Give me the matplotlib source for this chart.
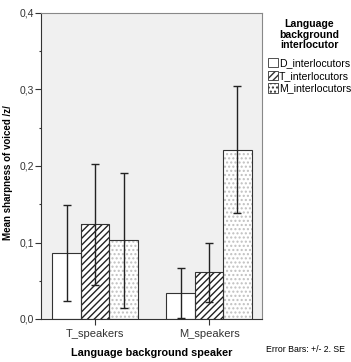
import numpy as np
import matplotlib
matplotlib.use('Agg')
import matplotlib.pyplot as plt
from matplotlib.ticker import MultipleLocator, FuncFormatter
from matplotlib.patches import Patch

plt.rcParams['font.family'] = ['Liberation Sans', 'DejaVu Sans']
plt.rcParams['hatch.linewidth'] = 1.0

# data
speakers = ['T_speakers', 'M_speakers']
interlocutors = ['D_interlocutors', 'T_interlocutors', 'M_interlocutors']
means = {'D_interlocutors': [0.086, 0.034],
         'T_interlocutors': [0.124, 0.061],
         'M_interlocutors': [0.103, 0.221]}
err2se = {'D_interlocutors': [0.063, 0.033],
          'T_interlocutors': [0.079, 0.039],
          'M_interlocutors': [0.088, 0.083]}

hatches = ['', '/////', '....']
hcols = ['black', '#222222', '#c0c0c0']

fig = plt.figure(figsize=(3.51, 3.62), dpi=100)
ax = fig.add_axes([41/351, 1-319/362, 221/351, 306/362])
ax.set_facecolor('#f0f0f0')

x = np.arange(len(speakers))
w = 0.25
for i, name in enumerate(interlocutors):
    pos = x + (i - 1) * w
    ax.bar(pos, means[name], w, color='white', edgecolor=hcols[i],
           hatch=hatches[i], lw=0, zorder=2)
    ax.bar(pos, means[name], w, color='none', edgecolor='#333333', lw=0.8, zorder=3)
    ax.errorbar(pos, means[name], yerr=err2se[name], fmt='none',
                ecolor='#222222', elinewidth=1, capsize=2.7, capthick=1, zorder=4)

ax.set_xlim(-0.474, 1.465)
ax.set_ylim(0, 0.4)
ax.yaxis.set_major_locator(MultipleLocator(0.1))
ax.yaxis.set_minor_locator(MultipleLocator(0.05))
ax.yaxis.set_major_formatter(FuncFormatter(lambda v, p: f'{v:.1f}'.replace('.', ',')))
ax.set_xticks(x)
ax.set_xticklabels(speakers)
ax.tick_params(axis='x', labelsize=8, colors='#333333', length=4, width=0.8)
ax.tick_params(axis='y', labelsize=7.5, colors='#333333', length=4.3, width=0.8, pad=1)
ax.tick_params(axis='y', which='minor', length=1.6, width=0.8, colors='#333333')
for s in ax.spines.values():
    s.set_color('#888888')
    s.set_linewidth(0.8)
ax.spines['left'].set_color('#333333')
ax.spines['bottom'].set_color('#333333')

ax.set_ylabel('Mean sharpness of voiced /z/', fontsize=7, fontweight='bold')
ax.yaxis.set_label_coords(-0.125, 0.478)
ax.set_xlabel('Language background speaker', fontsize=7.8, fontweight='bold', labelpad=6)

handles = [Patch(facecolor='white', edgecolor='#333333', hatch=hatches[i], lw=0.6)
           for i in range(3)]
leg = fig.legend(handles, interlocutors, loc='upper right', bbox_to_anchor=(351/351, 1-19/362),
                 frameon=False, fontsize=7.6, handlelength=1.0, handleheight=1.0,
                 handletextpad=0.05, labelspacing=0.22, borderaxespad=0, borderpad=0,
                 alignment='center',
                 title='Language\nbackground\ninterlocutor',
                 title_fontproperties={'weight': 'bold', 'size': 7.6})
leg.get_title().set_multialignment('center')
leg.get_title().set_linespacing(1.08)
leg._legend_box.sep = 5.5

fig.text(345/351, 1-349/362, 'Error Bars: +/- 2. SE', fontsize=6.3, ha='right', va='center')

fig.savefig('out.png', dpi=100)
